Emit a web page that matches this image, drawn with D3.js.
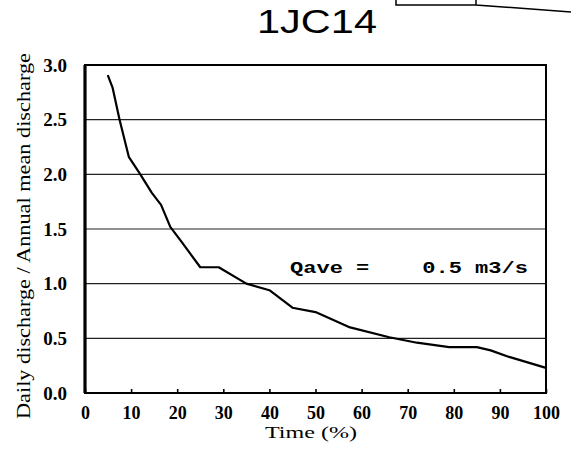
<!DOCTYPE html>
<html>
<head>
<meta charset="utf-8">
<script src="https://cdn.jsdelivr.net/npm/d3@7"></script>
<style>
  html, body { margin: 0; padding: 0; background: #fff; }
  svg { display: block; }
</style>
</head>
<body>
<div id="chart"></div>
<script>
// ---- Data ----
const timePct = [5, 6, 7.5, 9.5, 12, 14.5, 16.5, 18.5, 21, 25, 29, 35, 40, 45, 50, 57.5, 66, 72, 79, 85, 88, 92, 100];
const ratio   = [2.9, 2.79, 2.5, 2.16, 2.0, 1.83, 1.72, 1.52, 1.38, 1.15, 1.15, 1.0, 0.94, 0.78, 0.74, 0.6, 0.51, 0.46, 0.42, 0.42, 0.39, 0.33, 0.23];
const xTicks = [0, 10, 20, 30, 40, 50, 60, 70, 80, 90, 100];
const yTicks = [0.0, 0.5, 1.0, 1.5, 2.0, 2.5, 3.0];
const titleText = "1JC14";
const xTitle = "Time (%)";
const yTitle = "Daily discharge / Annual mean discharge";
const noteText = "Qave =    0.5 m3/s";

const W = 571, H = 458;
const margin = { left: 85, right: 25, top: 65, bottom: 65 };

const svg = d3.select("#chart").append("svg").attr("width", W).attr("height", H);

const x = d3.scaleLinear().domain([0, 100]).range([margin.left, W - margin.right]);
const y = d3.scaleLinear().domain([0, 3]).range([H - margin.bottom, margin.top]);

const serif = "'Liberation Serif', 'DejaVu Serif', serif";
const sans = "'Liberation Sans', Arial, sans-serif";
const mono = "'Liberation Mono', 'DejaVu Sans Mono', monospace";

// gridlines
svg.append("g").selectAll("line").data(yTicks.filter(d => d > 0 && d < 3)).join("line")
  .attr("x1", x(0)).attr("x2", x(100))
  .attr("y1", d => y(d)).attr("y2", d => y(d))
  .attr("stroke", "#222").attr("stroke-width", 1.2);

// frame
svg.append("rect")
  .attr("x", x(0)).attr("y", y(3))
  .attr("width", x(100) - x(0)).attr("height", y(0) - y(3))
  .attr("fill", "none").attr("stroke", "#000").attr("stroke-width", 2);
svg.append("line")
  .attr("x1", x(0)).attr("x2", x(0)).attr("y1", y(3)).attr("y2", y(0))
  .attr("stroke", "#000").attr("stroke-width", 3.2);

// bottom axis ticks (inward) and labels
const xAxis = d3.axisBottom(x).tickValues(xTicks).tickSize(-4).tickSizeOuter(0).tickPadding(10)
  .tickFormat(d => d);
const gx = svg.append("g").attr("transform", `translate(0,${y(0)})`).call(xAxis);
gx.select(".domain").remove();
gx.selectAll(".tick line").attr("stroke", "#000").attr("stroke-width", 1.6);
gx.selectAll(".tick text")
  .attr("font-family", serif).attr("font-size", 18).attr("font-weight", "bold")
  .attr("fill", "#000").attr("dy", "0.9em");

// left axis labels
const yAxis = d3.axisLeft(y).tickValues(yTicks).tickSize(0).tickPadding(18)
  .tickFormat(d3.format(".1f"));
const gy = svg.append("g").attr("transform", `translate(${x(0)},0)`).call(yAxis);
gy.select(".domain").remove();
gy.selectAll(".tick text")
  .attr("font-family", serif).attr("font-size", 19).attr("font-weight", "bold")
  .attr("fill", "#000");

// curve
const line = d3.line().x((d, i) => x(timePct[i])).y(d => y(d)).curve(d3.curveLinear);
svg.append("path").datum(ratio)
  .attr("d", line)
  .attr("fill", "none").attr("stroke", "#000").attr("stroke-width", 2.2)
  .attr("stroke-linejoin", "round").attr("stroke-linecap", "round");

// title
svg.append("text")
  .attr("x", 257).attr("y", 33)
  .attr("textLength", 120).attr("lengthAdjust", "spacingAndGlyphs")
  .attr("font-family", sans).attr("font-size", 33)
  .attr("fill", "#000").text(titleText);

// x title
svg.append("text")
  .attr("x", 265).attr("y", 438)
  .attr("textLength", 92).attr("lengthAdjust", "spacingAndGlyphs")
  .attr("font-family", serif).attr("font-size", 17)
  .attr("fill", "#000").text(xTitle);

// y title
svg.append("text")
  .attr("transform", "translate(30,236) rotate(-90)")
  .attr("text-anchor", "middle")
  .attr("textLength", 366).attr("lengthAdjust", "spacingAndGlyphs")
  .attr("font-family", serif).attr("font-size", 18)
  .attr("fill", "#000").text(yTitle);

// annotation
svg.append("text")
  .attr("x", 290).attr("y", 273)
  .attr("textLength", 238).attr("lengthAdjust", "spacingAndGlyphs")
  .attr("font-family", mono).attr("font-size", 16).attr("font-weight", "bold")
  .attr("xml:space", "preserve").style("white-space", "pre")
  .attr("fill", "#000").text(noteText);

// scan decoration top-right
svg.append("path")
  .attr("d", "M396,0 L396,5 L476,5 M476,0 L476,5 L571,12")
  .attr("fill", "none").attr("stroke", "#000").attr("stroke-width", 1.5);
</script>
</body>
</html>
